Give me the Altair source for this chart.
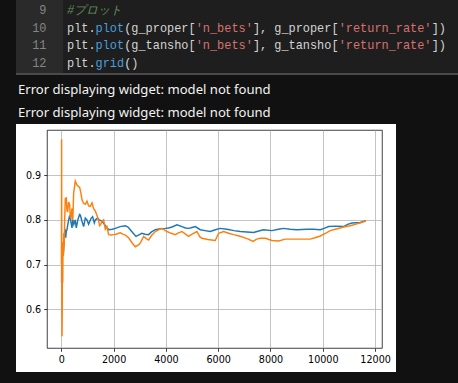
import altair as alt
import pandas as pd

# ---------------- data ----------------
proper_n = [10, 20, 35, 50, 65, 89, 110, 140, 170, 191, 217, 250, 280, 320, 344, 408, 440, 480, 530,
            574, 630, 701, 726, 791, 854, 918, 981, 1045, 1134, 1198, 1262, 1300, 1390, 1450, 1555,
            1650, 1810, 1950, 2065, 2250, 2447, 2550, 2638, 2750, 2855, 2950, 3084, 3200, 3339, 3450,
            3594, 3800, 3977, 4100, 4233, 4423, 4614, 4750, 4869, 5000, 5124, 5315, 5500, 5697, 5888,
            6079, 6336, 6600, 6844, 7100, 7353, 7550, 7735, 8056, 8300, 8500, 8750, 9012, 9394, 9650,
            9903, 10050, 10221, 10500, 10794, 10950, 11115, 11432, 11650]
proper_rate = [0.66, 0.74, 0.70, 0.75, 0.72, 0.73, 0.76, 0.78, 0.76, 0.775, 0.778, 0.79, 0.80, 0.81,
               0.804, 0.782, 0.80, 0.79, 0.80, 0.782, 0.80, 0.812, 0.811, 0.797, 0.785, 0.804, 0.80,
               0.79, 0.803, 0.807, 0.793, 0.80, 0.804, 0.80, 0.797, 0.79, 0.778, 0.779, 0.781, 0.785,
               0.787, 0.784, 0.778, 0.770, 0.763, 0.766, 0.770, 0.768, 0.767, 0.773, 0.778, 0.780,
               0.781, 0.782, 0.784, 0.789, 0.785, 0.782, 0.781, 0.783, 0.785, 0.778, 0.776, 0.774,
               0.778, 0.781, 0.779, 0.776, 0.774, 0.773, 0.772, 0.775, 0.778, 0.776, 0.779, 0.781,
               0.779, 0.778, 0.779, 0.779, 0.778, 0.781, 0.785, 0.786, 0.785, 0.790, 0.793, 0.794, 0.798]

tansho_n = [5, 12, 20, 28, 36, 45, 55, 65, 80, 95, 110, 130, 153, 191, 217, 241, 280, 319, 344, 370,
            408, 440, 472, 535, 600, 663, 701, 750, 791, 854, 920, 981, 1045, 1109, 1173, 1236, 1300,
            1364, 1420, 1466, 1510, 1555, 1619, 1682, 1746, 1810, 1900, 2000, 2100, 2192, 2256, 2350,
            2447, 2574, 2702, 2829, 2950, 3020, 3148, 3250, 3339, 3450, 3594, 3700, 3850, 3950, 4041,
            4200, 4359, 4480, 4614, 4750, 4869, 5000, 5188, 5300, 5380, 5600, 5888, 6016, 6207, 6400,
            6588, 6800, 6970, 7150, 7330, 7470, 7609, 7800, 8056, 8310, 8565, 8900, 9200, 9521, 9700,
            9903, 10100, 10285, 10550, 10794, 11050, 11306, 11480, 11650]
tansho_rate = [0.70, 0.98, 0.62, 0.54, 0.60, 0.74, 0.66, 0.75, 0.72, 0.77, 0.74, 0.80, 0.848, 0.849,
               0.82, 0.819, 0.84, 0.834, 0.807, 0.804, 0.826, 0.80, 0.86, 0.887, 0.878, 0.874, 0.873,
               0.86, 0.845, 0.837, 0.835, 0.842, 0.831, 0.830, 0.838, 0.825, 0.82, 0.810, 0.80, 0.787,
               0.79, 0.797, 0.80, 0.779, 0.785, 0.767, 0.766, 0.767, 0.768, 0.770, 0.771, 0.768, 0.766,
               0.760, 0.749, 0.740, 0.744, 0.748, 0.763, 0.758, 0.755, 0.765, 0.774, 0.777, 0.781,
               0.777, 0.774, 0.770, 0.767, 0.771, 0.774, 0.768, 0.763, 0.768, 0.774, 0.762, 0.759,
               0.756, 0.754, 0.770, 0.774, 0.770, 0.767, 0.764, 0.761, 0.757, 0.752, 0.757, 0.759,
               0.759, 0.754, 0.753, 0.757, 0.757, 0.757, 0.757, 0.760, 0.764, 0.770, 0.776, 0.780,
               0.784, 0.787, 0.791, 0.794, 0.798]

x_ticks = [0, 2000, 4000, 6000, 8000, 10000, 12000]
y_ticks = [0.6, 0.7, 0.8, 0.9]

line_numbers = ["9", "10", "11", "12"]
code_tokens = [
    [("#プロット", "comment")],
    [("plt.", "plain"), ("plot", "func"), ("(g_proper[", "plain"), ("'n_bets'", "str"),
     ("], g_proper[", "plain"), ("'return_rate'", "str"), ("])", "plain")],
    [("plt.", "plain"), ("plot", "func"), ("(g_tansho[", "plain"), ("'n_bets'", "str"),
     ("], g_tansho[", "plain"), ("'return_rate'", "str"), ("])", "plain")],
    [("plt.", "plain"), ("grid", "func"), ("()", "plain")],
]
error_lines = ["Error displaying widget: model not found",
               "Error displaying widget: model not found"]

# ---------------- layout ----------------
PAGE_W, PAGE_H = 458, 383
OX, OY = 47, 130          # plot-area origin on the page
W, H = 335, 218           # plot area
DARK = "#111111"

def px(x):
    return x - OX

def py(y):
    return y - OY

one = pd.DataFrame({"a": [0]})

def rect(x1, x2, y1, y2, color):
    return alt.Chart(one).mark_rect(color=color, strokeWidth=0).encode(
        x=alt.value(px(x1)), x2=alt.value(px(x2)), y=alt.value(py(y1)), y2=alt.value(py(y2)))

decor = [
    rect(0, PAGE_W, 0, 124, DARK),
    rect(0, 16, 0, PAGE_H, DARK),
    rect(396, PAGE_W, 0, PAGE_H, DARK),
    rect(0, PAGE_W, 372, PAGE_H, DARK),
    rect(16, PAGE_W, 0, 74, "#1e1e1e"),
    rect(16, 63, 0, 74, "#2a2a2a"),
    rect(16, PAGE_W, 73, 75, "#4a4a4a"),
]

colors = {"plain": "#d4d4d4", "func": "#4a9fdc", "str": "#d7726f", "comment": "#5f8f58"}
CW = 7.15
CODE_FS = 11.9   # Liberation Mono advance = 0.6 em -> 7.14 px, just under CW
line_y = [10, 27.7, 45.4, 63.1]

rows = []
for i, toks in enumerate(code_tokens):
    col = 0
    for t, kind in toks:
        rows.append({"px": px(67) + col * CW, "py": py(line_y[i]), "t": t, "c": colors[kind],
                     "k": kind})
        col += len(t)
tok_df = pd.DataFrame(rows)

def token_layer(df, style):
    return alt.Chart(df).mark_text(
        align="left", baseline="middle", font="Liberation Mono", fontSize=CODE_FS,
        fontStyle=style).encode(
        x=alt.X("px:Q", scale=None, axis=None),
        y=alt.Y("py:Q", scale=None, axis=None),
        text="t:N",
        color=alt.Color("c:N", scale=None, legend=None),
    )

code_text = token_layer(tok_df[tok_df["k"] != "comment"], "normal")
code_comment = token_layer(tok_df[tok_df["k"] == "comment"], "italic")

ln_df = pd.DataFrame({"px": [px(46.5)] * 4, "py": [py(v) for v in line_y], "t": line_numbers})
ln_text = alt.Chart(ln_df).mark_text(
    align="right", baseline="middle", font="Liberation Mono", fontSize=CODE_FS, color="#858585").encode(
    x=alt.X("px:Q", scale=None, axis=None),
    y=alt.Y("py:Q", scale=None, axis=None),
    text="t:N",
)

err_df = pd.DataFrame({"px": [px(18)] * 2, "py": [py(90), py(113)], "t": error_lines})
err_text = alt.Chart(err_df).mark_text(
    align="left", baseline="middle", font="Noto Sans", fontSize=13.1, color="#f2f2f2").encode(
    x=alt.X("px:Q", scale=None, axis=None),
    y=alt.Y("py:Q", scale=None, axis=None),
    text="t:N",
)

# ---------------- plot ----------------
xscale = alt.Scale(domain=[-547, 12264], nice=False, zero=False)
yscale = alt.Scale(domain=[0.5136, 1.0009], nice=False, zero=False)

axis_style = dict(grid=True, gridColor="#b0b0b0", gridWidth=0.75, domain=False,
                  ticks=True, tickColor="black", tickSize=3.3, tickWidth=0.75,
                  labelFont="DejaVu Sans", labelFontSize=9.6, labelColor="black",
                  labelPadding=3, title=None, labelFlush=False, labelOverlap=False)
xaxis = alt.Axis(values=x_ticks, format="d", **axis_style)
yaxis = alt.Axis(values=y_ticks, format=".1f", **axis_style)

df_p = pd.DataFrame({"n": proper_n, "r": proper_rate})
df_t = pd.DataFrame({"n": tansho_n, "r": tansho_rate})

blue = alt.Chart(df_p).mark_line(color="#1f77b4", strokeWidth=1.45, clip=True).encode(
    x=alt.X("n:Q", scale=xscale, axis=xaxis),
    y=alt.Y("r:Q", scale=yscale, axis=yaxis),
)
orange = alt.Chart(df_t).mark_line(color="#ff7f0e", strokeWidth=1.45, clip=True).encode(
    x=alt.X("n:Q", scale=xscale, axis=xaxis),
    y=alt.Y("r:Q", scale=yscale, axis=yaxis),
)

chart = alt.layer(blue, orange, *decor, ln_text, code_text, code_comment, err_text).properties(
    width=W, height=H,
    padding={"left": OX, "top": OY, "right": PAGE_W - OX - W, "bottom": PAGE_H - OY - H},
    autosize=alt.AutoSizeParams(type="none"),
    background="white",
).configure_view(stroke="black", strokeWidth=0.75)

chart.save("out.html", embed_options={"renderer": "svg", "actions": False})
